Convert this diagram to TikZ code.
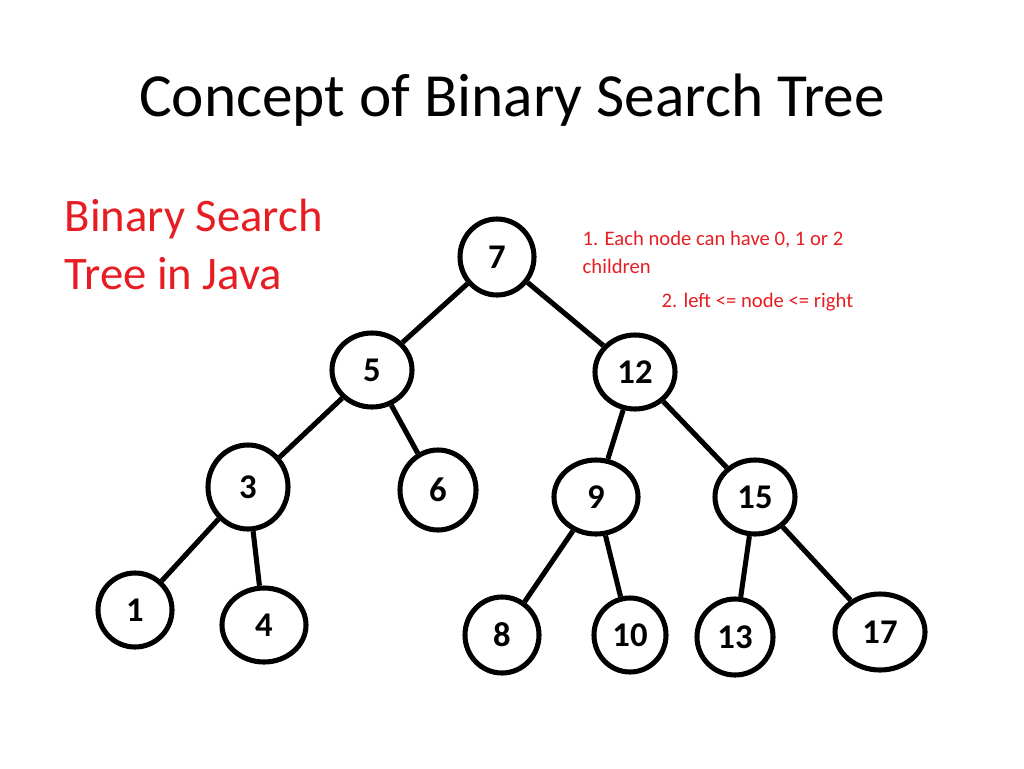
\documentclass[tikz,border=0pt]{standalone}
\usepackage{fontspec}
\setmainfont{Carlito}
\usetikzlibrary{shapes.geometric}
\definecolor{tred}{RGB}{230,30,35}
\begin{document}
\begin{tikzpicture}[x=0.75pt,y=-0.75pt,
  bn/.style n args={2}{draw,line width=3.8pt,ellipse,inner sep=0pt,minimum width=#1*0.75pt,minimum height=#2*0.75pt,font=\fontsize{26}{28}\selectfont\bfseries},
  ed/.style={line width=3.8pt}]
\useasboundingbox (0,0) rectangle (1024,768);
\node[font=\fontsize{46}{50}\selectfont] (title) at (512,100) {Concept of Binary Search Tree};
\node[font=\fontsize{35}{44}\selectfont,text=tred,align=left,anchor=north west] (side) at (60,194) {Binary Search\\Tree in Java};
\node[font=\fontsize{15.5}{21}\selectfont,text=tred,align=left,anchor=north west] (r1) at (578,226) {1. Each node can have 0, 1 or 2\\children};
\node[font=\fontsize{15.5}{17}\selectfont,text=tred,anchor=west] (r2) at (657,302) {2. left <= node <= right};
\node[bn={74}{76}] (n7) at (497,257) {7};
\node[bn={80}{74}] (n5) at (372,370) {5};
\node[bn={80}{74}] (n12) at (635,372) {12};
\node[bn={80}{84}] (n3) at (248,487) {3};
\node[bn={76}{80}] (n6) at (438,490) {6};
\node[bn={84}{74}] (n9) at (596,497) {9};
\node[bn={80}{74}] (n15) at (755,497) {15};
\node[bn={74}{74}] (n1) at (135,610) {1};
\node[bn={84}{74}] (n4) at (264,625) {4};
\node[bn={74}{76}] (n8) at (502,635) {8};
\node[bn={72}{74}] (n10) at (630,635) {10};
\node[bn={76}{76}] (n13) at (735,637) {13};
\node[bn={90}{76}] (n17) at (880,632) {17};
\draw[ed] (n7)--(n5); \draw[ed] (n7)--(n12);
\draw[ed] (n5)--(n3); \draw[ed] (n5)--(n6);
\draw[ed] (n12)--(n9); \draw[ed] (n12)--(n15);
\draw[ed] (n3)--(n1); \draw[ed] (n3)--(n4);
\draw[ed] (n9)--(n8); \draw[ed] (n9)--(n10);
\draw[ed] (n15)--(n13); \draw[ed] (n15)--(n17);
\end{tikzpicture}
\end{document}
